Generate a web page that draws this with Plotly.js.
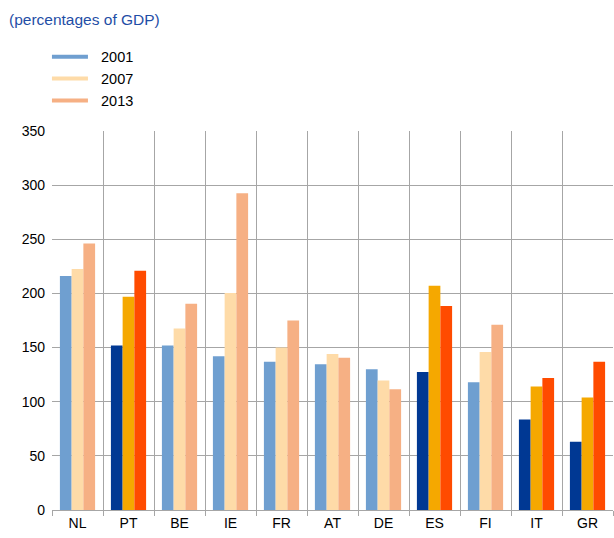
<!DOCTYPE html>
<html><head><meta charset="utf-8">
<script src="https://cdn.plot.ly/plotly-3.0.1.min.js"></script>
<style>html,body{margin:0;padding:0;background:#fff}</style>
</head><body><div id="chart" style="width:614px;height:538px"></div>
<script>
const countries = ["NL","PT","BE","IE","FR","AT","DE","ES","FI","IT","GR"];
const years = ["2001","2007","2013"];
const v2001 = [216, 152, 152, 142, 137, 134.5, 130, 127.5, 118, 83.5, 63];
const v2007 = [222.5, 197, 167.5, 200.5, 150, 144, 119.5, 207, 146, 114, 104];
const v2013 = [246, 221, 190.5, 292.5, 175, 140.5, 111.5, 188.5, 171, 122, 137];
const highlighted = ["PT","ES","IT","GR"];
const lightColors = ["#6f9fd0", "#fedba8", "#f6b084"];
const darkColors = ["#003893", "#f5a800", "#ff4b00"];
const series = [v2001, v2007, v2013];

const traces = [];
series.forEach((vals, i) => {
  traces.push({
    type: "bar", name: years[i], x: countries, y: vals, showlegend: false,
    marker: {
      color: countries.map(c => highlighted.includes(c) ? darkColors[i] : lightColors[i]),
      line: {width: 0}
    },
    hoverinfo: "x+y"
  });
});
series.forEach((vals, i) => {
  traces.push({
    type: "scatter", mode: "lines", name: "\u00a0\u00a0" + years[i], x: [null], y: [null],
    line: {color: lightColors[i], width: 4}, showlegend: true, hoverinfo: "skip"
  });
});

const layout = {
  width: 614, height: 538,
  margin: {l: 52, r: 1, t: 131, b: 28},
  paper_bgcolor: "#ffffff", plot_bgcolor: "#ffffff",
  font: {family: "Liberation Sans, Arial, sans-serif", size: 14, color: "#000000"},
  barmode: "group", bargap: 0.31, bargroupgap: 0,
  showlegend: true,
  legend: {x: -0.009, xanchor: "left", y: 1.238, yanchor: "top", bgcolor: "rgba(0,0,0,0)",
           font: {size: 14.5, color: "#000"}, tracegroupgap: 0, itemwidth: 36},
  xaxis: {
    type: "category", tickson: "boundaries", showgrid: true, gridcolor: "#a6a6a6", gridwidth: 1,
    ticks: "outside", ticklen: 5, tickcolor: "#a6a6a6", showline: true, linecolor: "#a6a6a6",
    tickfont: {size: 14, color: "#000"}, fixedrange: true, zeroline: false, mirror: false
  },
  yaxis: {
    range: [0, 350], dtick: 50, showgrid: true, gridcolor: "#a6a6a6", gridwidth: 1,
    zeroline: false, showline: false, ticks: "", tickfont: {size: 14, color: "#000"},
    ticklabelstandoff: 6, fixedrange: true
  },
  annotations: [{
    text: "(percentages of GDP)", xref: "paper", yref: "paper",
    x: -0.08, y: 1.293, xanchor: "left", yanchor: "middle", showarrow: false,
    font: {size: 15.5, color: "#1f4ea6"}
  }]
};
Plotly.newPlot("chart", traces, layout, {displayModeBar: false, staticPlot: true});
</script></body></html>
